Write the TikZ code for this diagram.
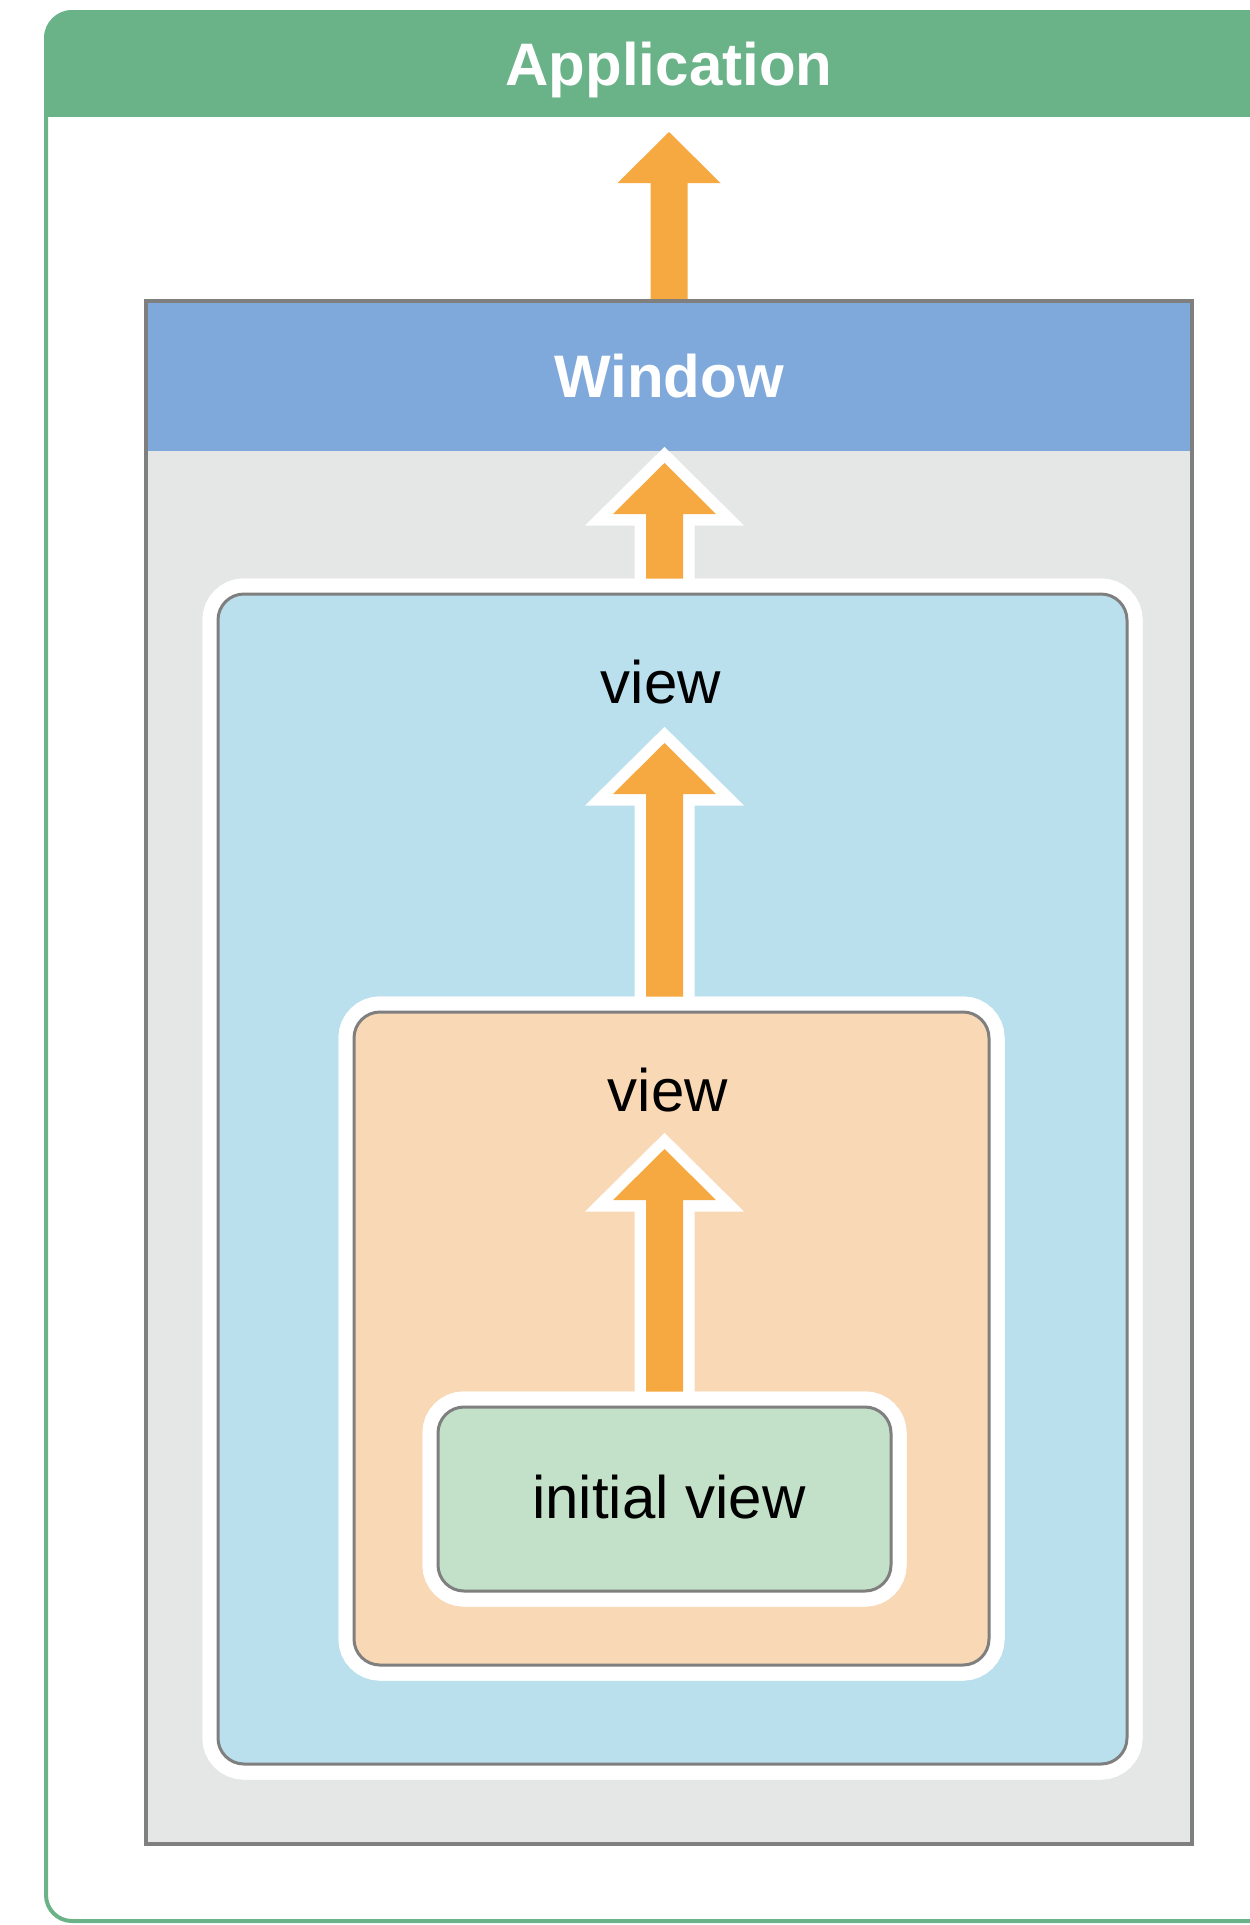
\documentclass[tikz,border=0pt]{standalone}
\usepackage{fontspec}
\setmainfont{Liberation Sans}
\usetikzlibrary{calc}
\definecolor{appgreen}{HTML}{6AB388}
\definecolor{winblue}{HTML}{7FA9DA}
\definecolor{wingray}{HTML}{E5E6E6}
\definecolor{edgegray}{HTML}{7F7F7F}
\definecolor{lblue}{HTML}{BAE0EE}
\definecolor{peach}{HTML}{F9D8B5}
\definecolor{lgreen}{HTML}{C3E1C8}
\definecolor{arrorange}{HTML}{F6A941}
\newcommand\fatarr[3][]{%
  \path[#1] let \p1=(#2), \p2=(#3) in
    (\x2-18.5pt,\y1) -- (\x2-18.5pt,\y2-51pt) -- (\x2-51.5pt,\y2-51pt) -- (\x2,\y2)
    -- (\x2+51.5pt,\y2-51pt) -- (\x2+18.5pt,\y2-51pt) -- (\x2+18.5pt,\y1) -- cycle;}
\tikzset{
  x=1pt, y=-1pt,
  txt/.style={font=\fontsize{60}{72}\selectfont, text=black, inner sep=0pt, outer sep=0pt},
  hdr/.style={font=\fontsize{60}{72}\selectfont\bfseries, text=white, inner sep=0pt, outer sep=0pt},
  viewbox/.style={draw=edgegray, line width=3pt, rounded corners=26pt, inner sep=0pt, outer sep=0pt,
    preaction={draw=white, line width=31pt}},
  plainarr/.style={fill=arrorange},
  outlinearr/.style={fill=arrorange, preaction={draw=white, line width=23pt, miter limit=10}},
}
\begin{document}
\begin{tikzpicture}
\useasboundingbox (0,0) rectangle (1250,1925);
\clip (0,0) rectangle (1250,1925);
\fill[white] (0,0) rectangle (1250,1925);
% application frame
\draw[appgreen, line width=4pt, rounded corners=26pt] (46,12) rectangle (1320,1921);
\begin{scope}
  \clip (0,0) rectangle (1250,116);
  \fill[appgreen, rounded corners=30pt] (44,10) rectangle (1320,400);
\end{scope}
\node[hdr, anchor=base] (app) at (669,85) {Application};
% arrow window -> application
\coordinate (tip1) at (669,132);
\coordinate (winbase) at (669,301);
\fatarr[plainarr]{winbase}{tip1}
% window
\node[fill=wingray, minimum width=1046pt, minimum height=1543pt, inner sep=0pt, outer sep=0pt] (win) at (669,1072.5) {};
\fill[winblue] (win.north west) rectangle ([yshift=-150pt]win.north east);
\draw[edgegray, line width=4.5pt] (win.north west) rectangle (win.south east);
\node[hdr, anchor=base] (wintitle) at (669,397) {Window};
% outer view
\coordinate (tip2) at (664.5,463);
\node[viewbox, fill=lblue, minimum width=909pt, minimum height=1170pt] (v1) at (672.5,1179) {};
\fatarr[outlinearr]{v1.north}{tip2}
\node[viewbox, fill=lblue, minimum width=909pt, minimum height=1170pt] at (672.5,1179) {};
\node[txt, anchor=base] (v1lbl) at (661,703) {view};
% middle view
\coordinate (tip3) at (664.5,743);
\node[viewbox, fill=peach, minimum width=635pt, minimum height=653pt] (v2) at (671.5,1338.5) {};
\fatarr[outlinearr]{v2.north}{tip3}
\node[viewbox, fill=peach, minimum width=635pt, minimum height=653pt] at (671.5,1338.5) {};
\node[txt, anchor=base] (v2lbl) at (668,1111) {view};
% initial view
\coordinate (tip4) at (664.5,1149);
\node[viewbox, fill=lgreen, minimum width=453pt, minimum height=184pt] (iv) at (664.5,1499) {};
\fatarr[outlinearr]{iv.north}{tip4}
\node[viewbox, fill=lgreen, minimum width=453pt, minimum height=184pt] at (664.5,1499) {};
\node[txt, anchor=base] (ivlbl) at (669,1518) {initial view};
\end{tikzpicture}
\end{document}
